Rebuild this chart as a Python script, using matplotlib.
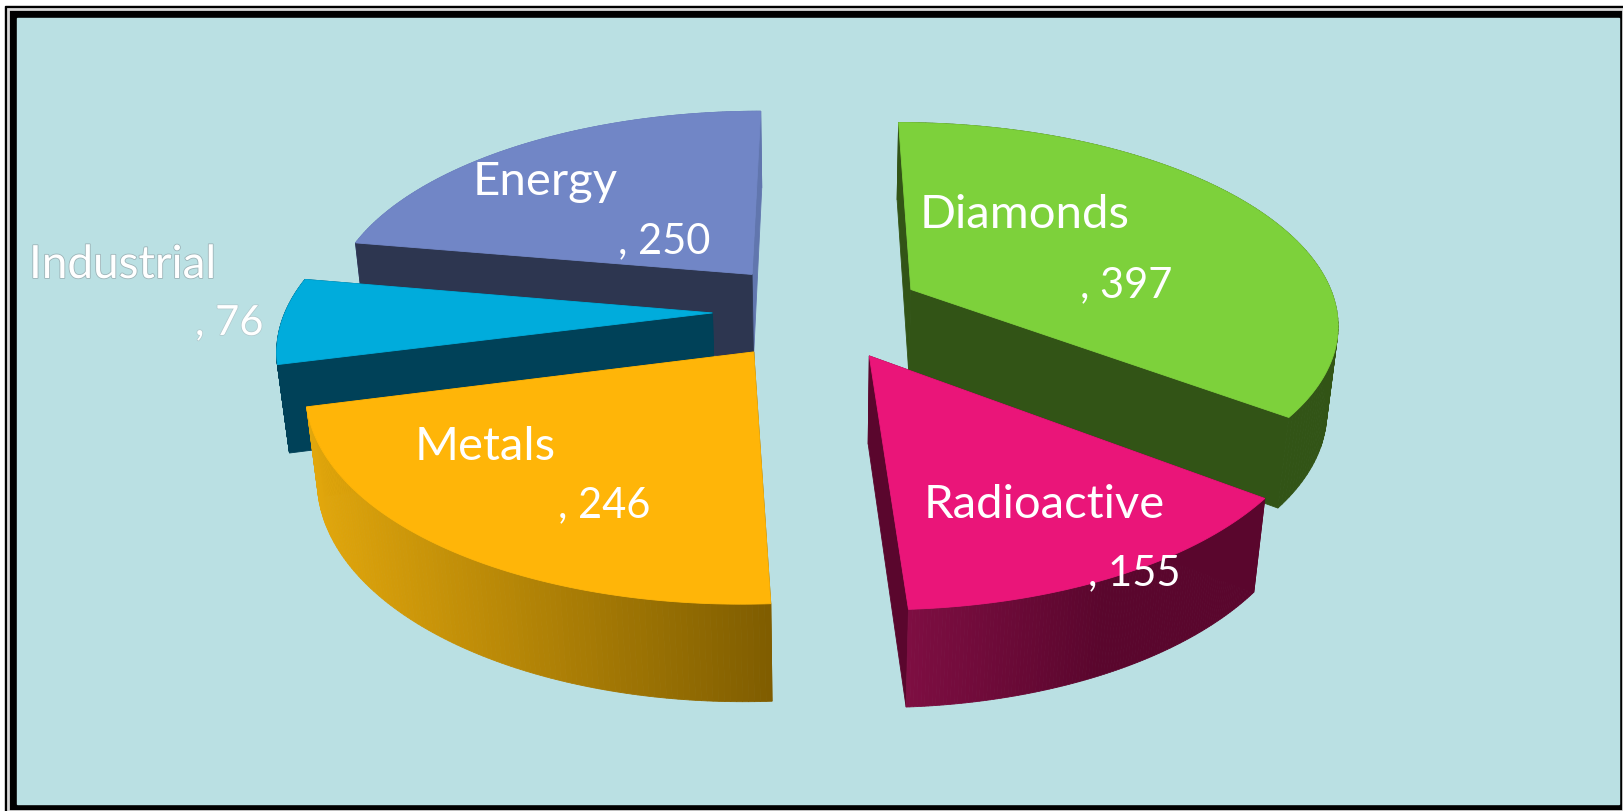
import numpy as np
import matplotlib
matplotlib.use("Agg")
import matplotlib.pyplot as plt
import matplotlib.patheffects as pe
from matplotlib.colors import to_rgb
from matplotlib.patches import Rectangle

categories = ["Diamonds", "Radioactive", "Metals", "Industrial", "Energy"]
values = [397, 155, 246, 76, 250]
top_colors = ["#7DD13B", "#EA1579", "#FFB508", "#00ACDC", "#7186C6"]
side_colors = ["#325416", "#5A062D", "#7F5D00", "#004158", "#2D3650"]
end_colors = ["#325416", "#5A062D", "#7F5D00", "#004158", "#6176AE"]
# outer wall shading, right end of the wall to left end
wall_right = ["#325416", "#5A062D", "#7F5D00", "#004158", "#6176AE"]
wall_left = ["#325416", "#7E0E42", "#E2A70C", "#004158", "#6176AE"]
wall_reach = [1, 0.55, 1, 1, 1]

# label anchors in pixels: name x, name baseline, value x, value baseline
label_pos = [(920, 228, 1080, 297),
             (924, 518, 1088, 585),
             (415, 460, 558, 517),
             (29, 278, 195, 335),
             (473, 195, 618, 253)]

W, H = 1623, 811
CX, CY = 818, 311
RX, RY, DEPTH = 427, 199, 88
PERSP, Z_PERSP = 0.155, 0.022
EXPLODE = 0.247


def project(x, y, z):
    s = 1 / (1 + PERSP * y - Z_PERSP * z)
    return CX + RX * x * s, CY - (RY * y + DEPTH * z) * s


def rim(ang, off):
    return off[0] + np.sin(ang), off[1] + np.cos(ang)


def mix(c1, c2, t):
    return tuple(a + (b - a) * t for a, b in zip(to_rgb(c1), to_rgb(c2)))


def quad(ax, p1, p2, color):
    # p1 and p2 are (x, y) on the disc, wall hangs down from them
    pts = [project(*p1, 0), project(*p2, 0), project(*p2, -1), project(*p1, -1)]
    ax.fill(*zip(*pts), color=color, lw=0.6)


def outer_wall(ax, i, angs, off, back):
    # shade goes with the position on screen, not the angle
    xs = np.array([project(*rim(a, off), 0)[0] for a in angs])
    for j in range(len(angs) - 1):
        if (np.cos(angs[j]) > 0) != back:
            continue
        t = (xs[j:j + 2].mean() - xs.min()) / (xs.max() - xs.min())
        t = min(t / wall_reach[i], 1)
        quad(ax, rim(angs[j], off), rim(angs[j + 1], off), mix(wall_left[i], wall_right[i], t))


fig = plt.figure(figsize=(W / 100, H / 100), dpi=100)
ax = fig.add_axes([0, 0, 1, 1])
ax.set_xlim(0, W)
ax.set_ylim(H, 0)
ax.axis("off")

# frame
ax.add_patch(Rectangle((5, 6), W - 5, H - 6, color="black"))
ax.add_patch(Rectangle((8, 9), W - 8, H - 9, fc="none", ec="#D8D8D8", lw=2))
ax.add_patch(Rectangle((17, 18), 1602, 786, color="#BAE0E3"))

total = sum(values)
edges = np.radians(np.cumsum([0] + values) / total * 360)
mids = (edges[:-1] + edges[1:]) / 2

# back slices first
for i in np.argsort(-np.cos(mids)):
    a0, a1 = edges[i], edges[i + 1]
    off = (EXPLODE * np.sin(mids[i]), EXPLODE * np.cos(mids[i]))
    angs = np.linspace(a0, a1, 120)

    outer_wall(ax, i, angs, off, True)
    quad(ax, off, rim(a1, off), end_colors[i])
    quad(ax, off, rim(a0, off), side_colors[i])
    outer_wall(ax, i, angs, off, False)

    outline = [off] + [rim(a, off) for a in angs]
    pts = [project(x, y, 0) for x, y in outline]
    ax.fill(*zip(*pts), color=top_colors[i], lw=0.6)

for i, name in enumerate(categories):
    nx, ny, vx, vy = label_pos[i]
    t1 = ax.text(nx, ny, name, family="Lato", fontsize=34, color="white", va="baseline")
    t2 = ax.text(vx, vy, ", %d" % values[i], family="Lato", fontsize=30, color="white", va="baseline")
    if name == "Industrial":
        # sits on the background, thin grey halo keeps it readable
        t1.set_fontsize(33)
        t1.set_path_effects([pe.withStroke(linewidth=1.2, foreground="#9DB4B8")])
        t2.set_path_effects([pe.withStroke(linewidth=1, foreground="#B0C8CC")])

fig.savefig("out.png", dpi=100, facecolor="white")
